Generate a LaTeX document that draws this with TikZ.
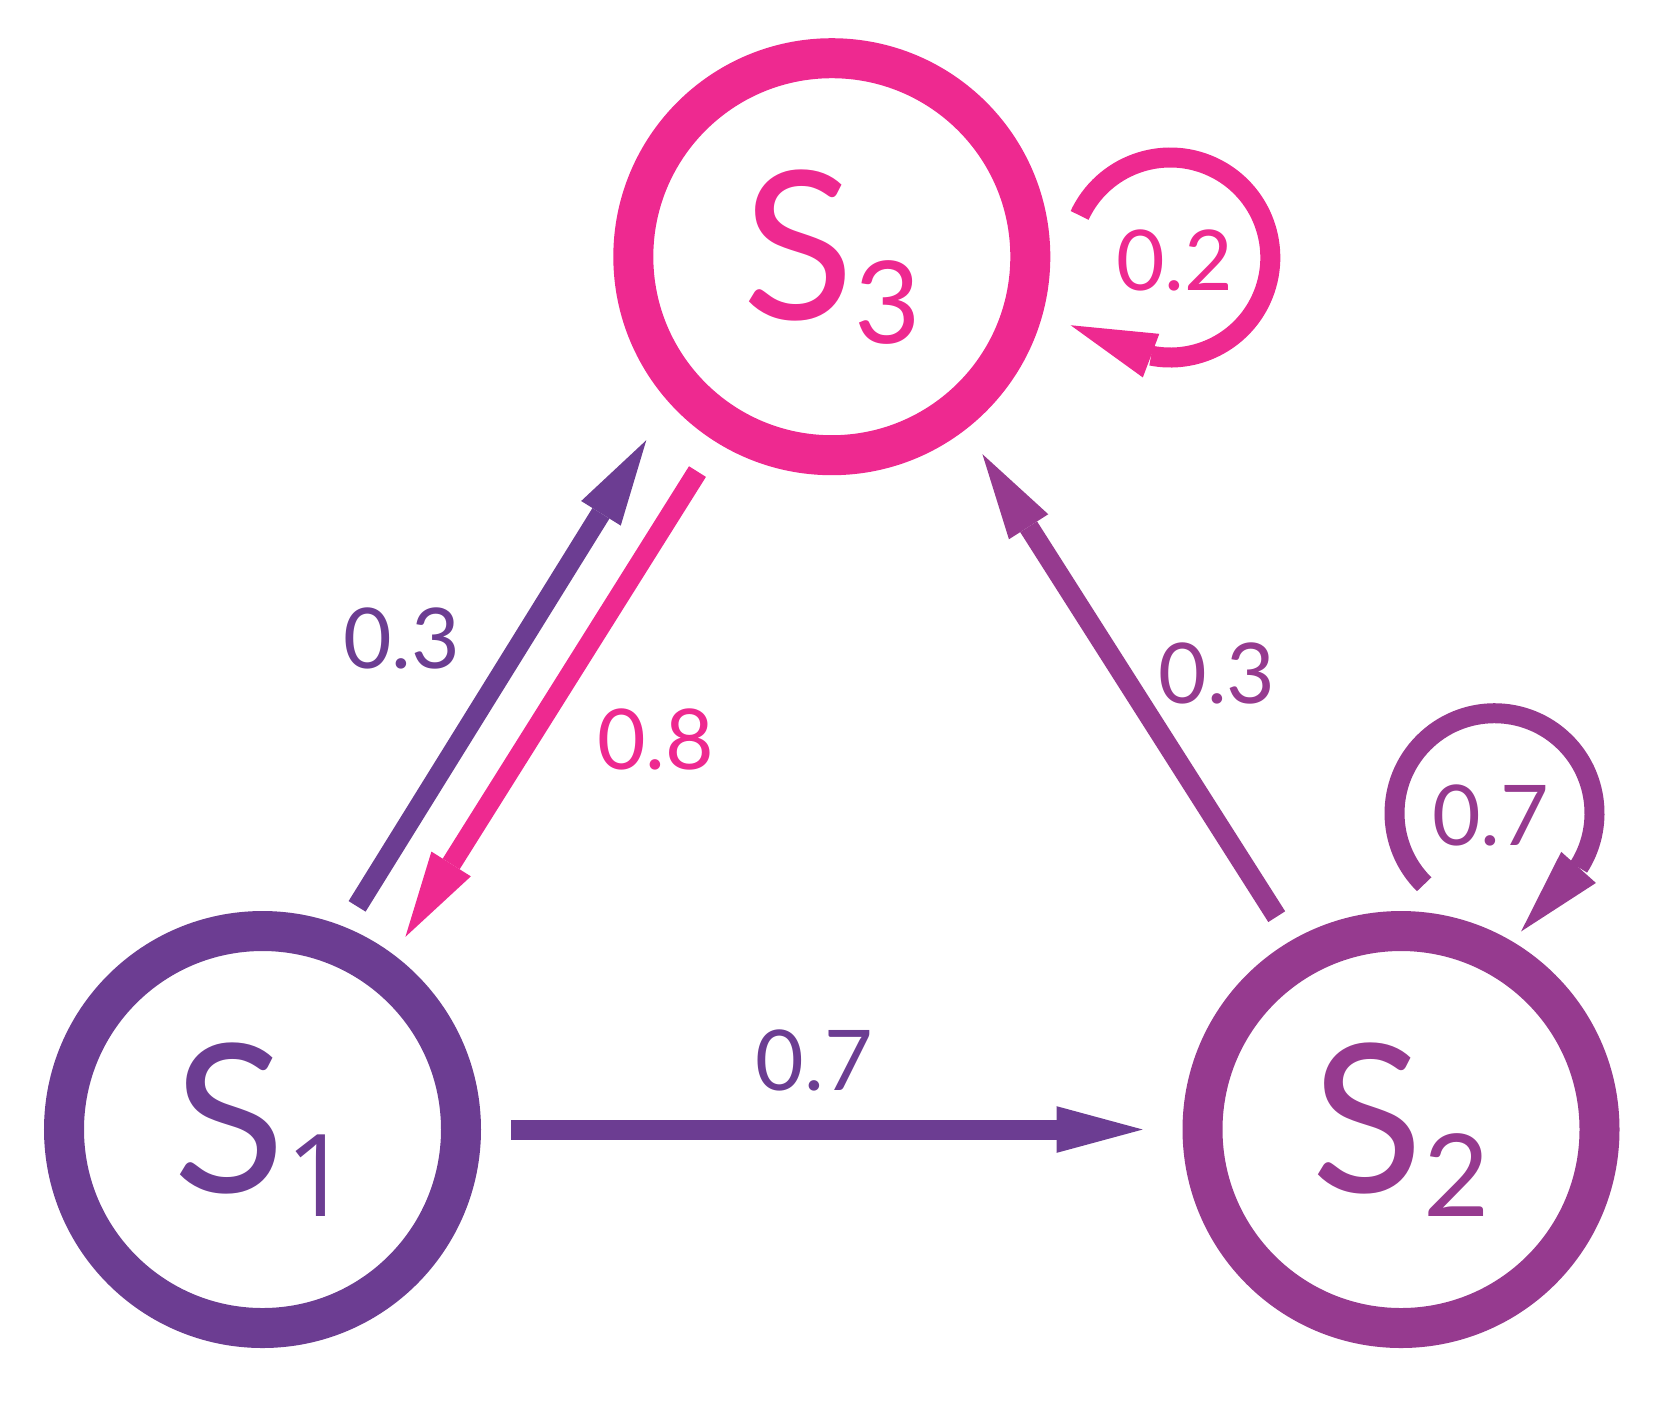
\documentclass[tikz,border=0pt]{standalone}
\usepackage{fontspec}
\setmainfont{Lato}
\newfontfamily\onefont{Open Sans}
\usetikzlibrary{arrows.meta}
\definecolor{cA}{RGB}{108,61,146}
\definecolor{cB}{RGB}{150,58,143}
\definecolor{cC}{RGB}{238,41,144}
\newcommand\stlab[1]{{\fontsize{103.3}{103.3}\selectfont S}\raisebox{-12pt}{\fontsize{57.2}{57.2}\selectfont #1}}
\begin{document}
\begin{tikzpicture}[x=0.5pt,y=0.5pt,
  state/.style={circle, draw=#1, line width=20pt, minimum size=198.5pt, inner sep=0pt, outer sep=10pt, text=#1},
  conn/.style={draw=#1, line width=10pt, -{Triangle[length=43pt,width=23.3pt,line width=0pt]}},
  prob/.style={text=#1, inner sep=0pt, font=\fontsize{41.9}{41.9}\selectfont},
]
\useasboundingbox (0,0) rectangle (1659,-1405);

\node[state=cA] (s1) at (262.5,-1129.5) {\stlab{\onefont 1}};
\node[state=cB] (s2) at (1401,-1129.5) {\stlab{2}};
\node[state=cC] (s3) at (831.8,-256.7) {\stlab{3}};

\draw[conn=cA, shorten <=15pt, shorten >=19.9pt] (s1.0) -- (s2.180);
\draw[conn=cA, shorten <=12.1pt, shorten >=21.95pt] (s1.68.9) -- (s3.-138);
\draw[conn=cC, shorten <=17.45pt, shorten >=10.75pt] (s3.-122.75) -- (s1.53.9);
\draw[conn=cB, shorten <=14pt, shorten >=15pt] (s2.120.3) -- (s3.-52.8);

\coordinate (c3) at ([shift={(338.5,-0.8)}]s3.center);
\draw[conn=cC] ([shift={(155.1:100)}]c3) arc[start angle=155.1, end angle=-101.1, radius=100] -- ++(159.3:86);
\coordinate (c2) at ([shift={(93.5,316.3)}]s2.center);
\draw[conn=cB] ([shift={(225.3:100)}]c2) arc[start angle=225.3, end angle=-32.8, radius=100] -- ++(228.1:86);

\node[prob=cA] (l13) at (401.7,-638.3) {0.3};
\node[prob=cC] (l31) at (655.8,-739.2) {0.8};
\node[prob=cB] (l23) at (1217,-673) {0.3};
\node[prob=cA] (l12) at (814.2,-1060.8) {0.7};
\node[prob=cC] (l33) at (1174.5,-260.5) {0.2};
\node[prob=cB] (l22) at (1490.8,-815) {0.7};
\end{tikzpicture}
\end{document}
